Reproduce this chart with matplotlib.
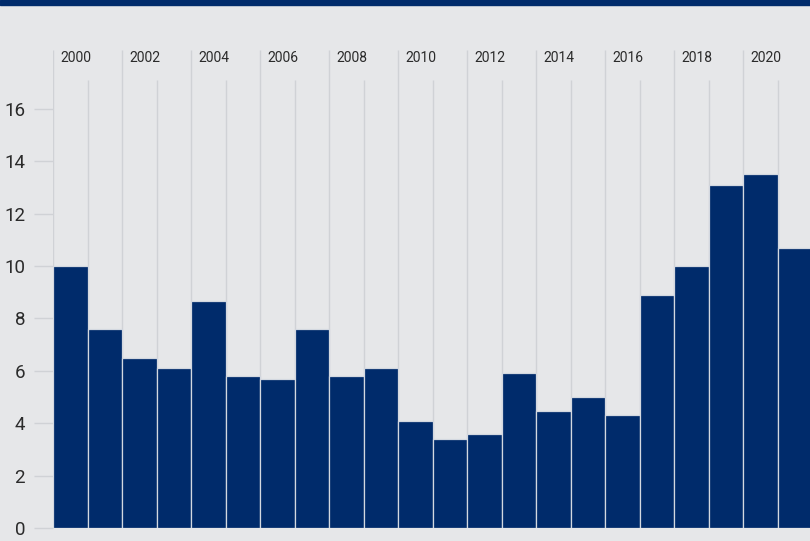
import numpy as np
import matplotlib.pyplot as plt

years = list(range(2000, 2022))
values = [10.0, 7.6, 6.5, 6.1, 8.65, 5.8, 5.7, 7.6, 5.8, 6.1, 4.1,
          3.4, 3.6, 5.9, 4.45, 5.0, 4.3, 8.9, 10.0, 13.1, 13.5, 10.7]
yticks = [0, 2, 4, 6, 8, 10, 12, 14, 16]

navy = '#002b6b'
bg = '#e6e7e9'
grid = '#d0d2d6'
txt = '#2b2b2b'

plt.rcParams['font.family'] = ['Roboto', 'DejaVu Sans']

fig = plt.figure(figsize=(8.1, 5.41), dpi=100, facecolor=bg)
# navy strip along the top
fig.add_artist(plt.Rectangle((0, 1 - 5 / 541), 1, 5 / 541, transform=fig.transFigure,
                             color=navy, zorder=5))

ax = fig.add_axes([53 / 810, 13 / 541, 757 / 810, 480 / 541])
ax.set_facecolor(bg)
for s in ax.spines.values():
    s.set_visible(False)

ymax = 480 / 26.19
ax.set_ylim(0, ymax)
ax.set_xlim(-0.5, 21.44)

x = np.arange(len(years))
# year boundary lines: tall at labelled years, shorter otherwise
for i, yr in enumerate(years):
    top = ymax - 2 / 26.19 if yr % 2 == 0 else (528 - 80) / 26.19
    ax.vlines(i - 0.5, 0, top, color=grid, lw=1, zorder=1)
    if yr % 2 == 0:
        ax.text(i - 0.5 + 0.2, (528 - 58) / 26.19, str(yr), fontsize=10,
                color=txt, va='center', ha='left')

ax.bar(x, values, width=1.0, color=navy, edgecolor='#d3d8e0', linewidth=0.9, zorder=2)

ax.set_xticks([])
ax.set_yticks(yticks)
ax.set_yticklabels([str(t) for t in yticks], fontsize=13.5, color=txt)
ax.tick_params(axis='y', length=14, width=1, color=grid, pad=6)

fig.savefig('out.png', dpi=100, facecolor=bg)
